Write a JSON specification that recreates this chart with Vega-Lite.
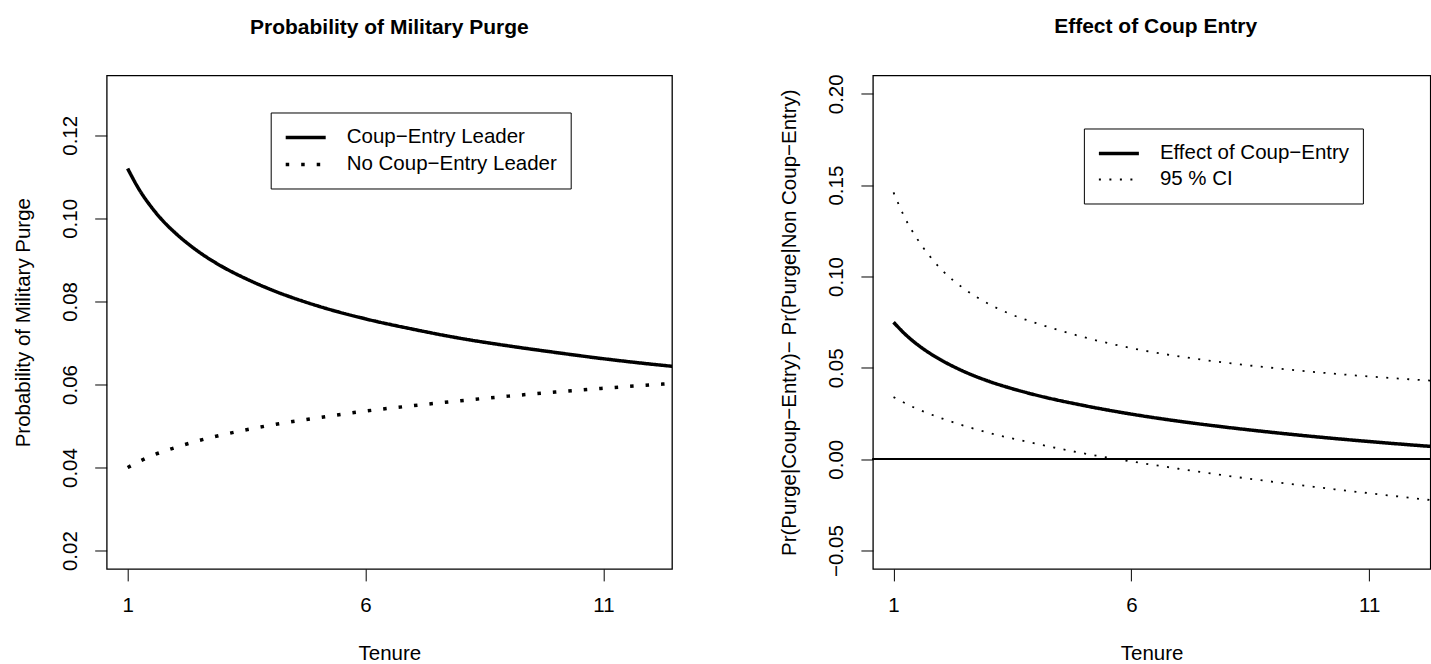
{
  "$schema": "https://vega.github.io/schema/vega-lite/v6.json",
  "padding": {"left": 12.7, "top": 14.5, "right": 0, "bottom": 0},
  "autosize": {"type": "pad"},
  "spacing": 106.2,
  "background": "white",
  "datasets": {
    "left": [
      {"t": 1, "p": 0.1120, "series": "Coup−Entry Leader"},
      {"t": 1.25, "p": 0.1068, "series": "Coup−Entry Leader"},
      {"t": 1.5, "p": 0.1027, "series": "Coup−Entry Leader"},
      {"t": 1.75, "p": 0.0993, "series": "Coup−Entry Leader"},
      {"t": 2, "p": 0.0965, "series": "Coup−Entry Leader"},
      {"t": 2.5, "p": 0.0919, "series": "Coup−Entry Leader"},
      {"t": 3, "p": 0.0883, "series": "Coup−Entry Leader"},
      {"t": 3.5, "p": 0.0854, "series": "Coup−Entry Leader"},
      {"t": 4, "p": 0.0829, "series": "Coup−Entry Leader"},
      {"t": 5, "p": 0.0789, "series": "Coup−Entry Leader"},
      {"t": 6, "p": 0.0758, "series": "Coup−Entry Leader"},
      {"t": 7, "p": 0.0733, "series": "Coup−Entry Leader"},
      {"t": 8, "p": 0.0711, "series": "Coup−Entry Leader"},
      {"t": 9, "p": 0.0693, "series": "Coup−Entry Leader"},
      {"t": 10, "p": 0.0677, "series": "Coup−Entry Leader"},
      {"t": 11, "p": 0.0662, "series": "Coup−Entry Leader"},
      {"t": 12, "p": 0.0649, "series": "Coup−Entry Leader"},
      {"t": 13, "p": 0.0638, "series": "Coup−Entry Leader"},
      {"t": 1, "p": 0.0400, "series": "No Coup−Entry Leader"},
      {"t": 1.25, "p": 0.0415, "series": "No Coup−Entry Leader"},
      {"t": 1.5, "p": 0.0428, "series": "No Coup−Entry Leader"},
      {"t": 2, "p": 0.0448, "series": "No Coup−Entry Leader"},
      {"t": 2.5, "p": 0.0465, "series": "No Coup−Entry Leader"},
      {"t": 3, "p": 0.0479, "series": "No Coup−Entry Leader"},
      {"t": 4, "p": 0.0502, "series": "No Coup−Entry Leader"},
      {"t": 5, "p": 0.0520, "series": "No Coup−Entry Leader"},
      {"t": 6, "p": 0.0536, "series": "No Coup−Entry Leader"},
      {"t": 7, "p": 0.0549, "series": "No Coup−Entry Leader"},
      {"t": 8, "p": 0.0561, "series": "No Coup−Entry Leader"},
      {"t": 9, "p": 0.0572, "series": "No Coup−Entry Leader"},
      {"t": 10, "p": 0.0582, "series": "No Coup−Entry Leader"},
      {"t": 11, "p": 0.0591, "series": "No Coup−Entry Leader"},
      {"t": 12, "p": 0.0599, "series": "No Coup−Entry Leader"},
      {"t": 13, "p": 0.0607, "series": "No Coup−Entry Leader"}
    ],
    "right": [
      {"t": 1, "v": 0.0750, "series": "Effect of Coup−Entry", "band": "est"},
      {"t": 1.25, "v": 0.0683, "series": "Effect of Coup−Entry", "band": "est"},
      {"t": 1.5, "v": 0.0628, "series": "Effect of Coup−Entry", "band": "est"},
      {"t": 1.75, "v": 0.0582, "series": "Effect of Coup−Entry", "band": "est"},
      {"t": 2, "v": 0.0543, "series": "Effect of Coup−Entry", "band": "est"},
      {"t": 2.5, "v": 0.0478, "series": "Effect of Coup−Entry", "band": "est"},
      {"t": 3, "v": 0.0427, "series": "Effect of Coup−Entry", "band": "est"},
      {"t": 3.5, "v": 0.0386, "series": "Effect of Coup−Entry", "band": "est"},
      {"t": 4, "v": 0.0351, "series": "Effect of Coup−Entry", "band": "est"},
      {"t": 5, "v": 0.0294, "series": "Effect of Coup−Entry", "band": "est"},
      {"t": 6, "v": 0.0247, "series": "Effect of Coup−Entry", "band": "est"},
      {"t": 7, "v": 0.0208, "series": "Effect of Coup−Entry", "band": "est"},
      {"t": 8, "v": 0.0175, "series": "Effect of Coup−Entry", "band": "est"},
      {"t": 9, "v": 0.0146, "series": "Effect of Coup−Entry", "band": "est"},
      {"t": 10, "v": 0.0120, "series": "Effect of Coup−Entry", "band": "est"},
      {"t": 11, "v": 0.0097, "series": "Effect of Coup−Entry", "band": "est"},
      {"t": 12, "v": 0.0076, "series": "Effect of Coup−Entry", "band": "est"},
      {"t": 13, "v": 0.0057, "series": "Effect of Coup−Entry", "band": "est"},
      {"t": 1, "v": 0.1460, "series": "95 % CI", "band": "upper"},
      {"t": 1.25, "v": 0.1315, "series": "95 % CI", "band": "upper"},
      {"t": 1.5, "v": 0.1205, "series": "95 % CI", "band": "upper"},
      {"t": 1.75, "v": 0.1115, "series": "95 % CI", "band": "upper"},
      {"t": 2, "v": 0.1040, "series": "95 % CI", "band": "upper"},
      {"t": 2.5, "v": 0.0930, "series": "95 % CI", "band": "upper"},
      {"t": 3, "v": 0.0850, "series": "95 % CI", "band": "upper"},
      {"t": 3.5, "v": 0.0790, "series": "95 % CI", "band": "upper"},
      {"t": 4, "v": 0.0745, "series": "95 % CI", "band": "upper"},
      {"t": 5, "v": 0.0668, "series": "95 % CI", "band": "upper"},
      {"t": 6, "v": 0.0608, "series": "95 % CI", "band": "upper"},
      {"t": 7, "v": 0.0563, "series": "95 % CI", "band": "upper"},
      {"t": 8, "v": 0.0528, "series": "95 % CI", "band": "upper"},
      {"t": 9, "v": 0.0499, "series": "95 % CI", "band": "upper"},
      {"t": 10, "v": 0.0474, "series": "95 % CI", "band": "upper"},
      {"t": 11, "v": 0.0453, "series": "95 % CI", "band": "upper"},
      {"t": 12, "v": 0.0435, "series": "95 % CI", "band": "upper"},
      {"t": 13, "v": 0.0420, "series": "95 % CI", "band": "upper"},
      {"t": 1, "v": 0.0340, "series": "95 % CI", "band": "lower"},
      {"t": 1.5, "v": 0.0275, "series": "95 % CI", "band": "lower"},
      {"t": 2, "v": 0.0225, "series": "95 % CI", "band": "lower"},
      {"t": 2.5, "v": 0.0182, "series": "95 % CI", "band": "lower"},
      {"t": 3, "v": 0.0145, "series": "95 % CI", "band": "lower"},
      {"t": 4, "v": 0.0085, "series": "95 % CI", "band": "lower"},
      {"t": 5, "v": 0.0032, "series": "95 % CI", "band": "lower"},
      {"t": 6, "v": -0.0012, "series": "95 % CI", "band": "lower"},
      {"t": 7, "v": -0.0052, "series": "95 % CI", "band": "lower"},
      {"t": 8, "v": -0.0090, "series": "95 % CI", "band": "lower"},
      {"t": 9, "v": -0.0124, "series": "95 % CI", "band": "lower"},
      {"t": 10, "v": -0.0156, "series": "95 % CI", "band": "lower"},
      {"t": 11, "v": -0.0186, "series": "95 % CI", "band": "lower"},
      {"t": 12, "v": -0.0215, "series": "95 % CI", "band": "lower"},
      {"t": 13, "v": -0.0245, "series": "95 % CI", "band": "lower"}
    ]
  },
  "config": {
    "font": "Liberation Sans",
    "view": {"stroke": "black", "strokeWidth": 1.3},
    "axis": {
      "domain": false, "grid": false,
      "tickColor": "black", "tickSize": 12, "tickWidth": 1,
      "labelColor": "black", "labelFontSize": 20.5, "labelFont": "Liberation Sans",
      "titleColor": "black", "titleFontSize": 20.5, "titleFontWeight": "normal", "titleFont": "Liberation Sans"
    },
    "axisX": {"labelPadding": 15, "titlePadding": 27},
    "axisY": {"labelAngle": -90, "labelAlign": "center", "labelBaseline": "bottom", "labelPadding": 14, "titlePadding": 27},
    "legend": {
      "orient": "none", "title": null, "strokeColor": "black", "padding": 13,
      "labelFontSize": 20.5, "labelFont": "Liberation Sans", "labelColor": "black", "labelLimit": 500,
      "symbolType": "M-2,0H2", "symbolSize": 400, "symbolStrokeColor": "black", "symbolOffset": 10,
      "labelOffset": 29, "rowPadding": 4, "fillColor": "white"
    },
    "title": {"fontSize": 21, "fontWeight": "bold", "font": "Liberation Sans", "color": "black", "anchor": "middle", "offset": 37}
  },
  "resolve": {
    "scale": {"x": "independent", "y": "independent", "strokeDash": "independent", "strokeWidth": "independent"},
    "legend": {"strokeDash": "independent", "strokeWidth": "independent"}
  },
  "hconcat": [
    {
      "width": 565.3,
      "height": 493.4,
      "title": {"text": "Probability of Military Purge"},
      "data": {"name": "left"},
      "mark": {"type": "line", "clip": true, "color": "black", "interpolate": "monotone"},
      "encoding": {
        "x": {"field": "t", "type": "quantitative", "scale": {"domain": [0.56, 12.44], "nice": false, "zero": false},
              "axis": {"values": [1, 6, 11], "title": "Tenure"}},
        "y": {"field": "p", "type": "quantitative", "scale": {"domain": [0.0156, 0.1344], "nice": false, "zero": false},
              "axis": {"values": [0.02, 0.04, 0.06, 0.08, 0.1, 0.12], "format": ".2f", "title": "Probability of Military Purge"}},
        "strokeDash": {"field": "series", "type": "nominal",
              "scale": {"domain": ["Coup−Entry Leader", "No Coup−Entry Leader"], "range": [[1, 0], [3.5, 12]]},
              "legend": {"legendX": 164, "legendY": 37, "symbolStrokeWidth": 3.5}},
        "strokeWidth": {"field": "series", "type": "nominal",
              "scale": {"domain": ["Coup−Entry Leader", "No Coup−Entry Leader"], "range": [3.5, 3.5]}},
        "order": {"field": "t", "type": "quantitative"}
      }
    },
    {
      "width": 557.5,
      "height": 493.4,
      "title": {"text": "Effect of Coup Entry", "dx": 4},
      "data": {"name": "right"},
      "layer": [
        {
          "mark": {"type": "rule", "color": "black", "strokeWidth": 1},
          "encoding": {"y": {"datum": 0}}
        },
        {
          "mark": {"type": "line", "clip": true, "color": "black", "interpolate": "monotone"},
          "encoding": {
            "x": {"field": "t", "type": "quantitative", "scale": {"domain": [0.566, 12.286], "nice": false, "zero": false},
                  "axis": {"values": [1, 6, 11], "title": "Tenure"}},
            "y": {"field": "v", "type": "quantitative", "scale": {"domain": [-0.06, 0.21], "nice": false, "zero": false},
                  "axis": {"values": [-0.05, 0, 0.05, 0.1, 0.15, 0.2], "format": ".2f", "title": "Pr(Purge|Coup−Entry)− Pr(Purge|Non Coup−Entry)"}},
            "detail": {"field": "band", "type": "nominal"},
            "strokeDash": {"field": "series", "type": "nominal",
                  "scale": {"domain": ["Effect of Coup−Entry", "95 % CI"], "range": [[1, 0], [2, 8.5]]},
                  "legend": {"legendX": 211, "legendY": 53}},
            "strokeWidth": {"field": "series", "type": "nominal",
                  "scale": {"domain": ["Effect of Coup−Entry", "95 % CI"], "range": [3.5, 1.8]}},
            "order": {"field": "t", "type": "quantitative"}
          }
        }
      ]
    }
  ]
}
